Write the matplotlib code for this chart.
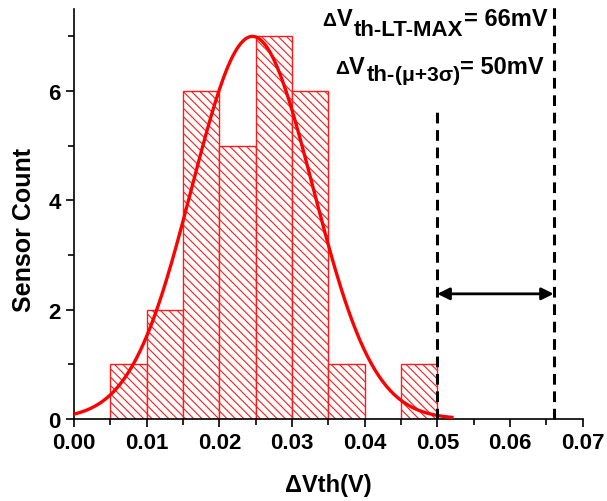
import numpy as np
import matplotlib
matplotlib.use("Agg")
import matplotlib.pyplot as plt
from matplotlib.ticker import MultipleLocator, FormatStrFormatter
from matplotlib.transforms import offset_copy

plt.rcParams['font.family'] = ['Liberation Sans', 'DejaVu Sans']
plt.rcParams['font.weight'] = 'bold'
plt.rcParams['hatch.linewidth'] = 0.8

# Histogram of threshold-voltage shift (bin left edges, width, counts)
bin_left = [0.005, 0.010, 0.015, 0.020, 0.025, 0.030, 0.035, 0.040, 0.045]
bin_width = 0.005
counts = [1, 2, 6, 5, 7, 6, 1, 0, 1]

# Normal fit parameters
fit_mu = 0.02455
fit_sigma = 0.00832
fit_amp = 7.0
fit_range = (0.0, 0.052)

# Limits (V)
v_mu3sigma = 0.050
v_lt_max = 0.066

fig = plt.figure(figsize=(6.07, 5.02), dpi=100)
ax = fig.add_axes([0.122, 0.1633, 0.838, 0.8167])

ax.bar(bin_left, counts, width=bin_width, align='edge', facecolor='white',
       edgecolor='#ff1a1a', hatch='\\\\\\\\', linewidth=1.0, zorder=2)

xs = np.linspace(fit_range[0], fit_range[1], 300)
ax.plot(xs, fit_amp * np.exp(-(xs - fit_mu) ** 2 / (2 * fit_sigma ** 2)),
        color='#ff0000', lw=2.4, zorder=3)

ax.plot([v_mu3sigma, v_mu3sigma], [0, 5.72], color='black', lw=2.2,
        linestyle=(0, (3.5, 2.2)), zorder=4)
ax.plot([v_lt_max, v_lt_max], [0, 7.6], color='black', lw=2.2,
        linestyle=(0, (3.5, 2.2)), zorder=4, clip_on=False)

ax.annotate('', xy=(v_lt_max, 2.29), xytext=(v_mu3sigma, 2.29),
            arrowprops=dict(arrowstyle='<|-|>', color='black', lw=2,
                            mutation_scale=18, shrinkA=0, shrinkB=0))

renderer = fig.canvas.get_renderer()


def rich_label(x, y, pieces):
    """Lay out text pieces left to right; each piece is (text, size, dy_px, gap_px)."""
    cursor = 0.0
    for txt, size, dy, gap in pieces:
        tr = offset_copy(ax.transData, fig=fig, x=cursor, y=dy, units='dots')
        t = ax.text(x, y, txt, fontsize=size, fontweight='bold',
                    ha='left', va='baseline', transform=tr, clip_on=False)
        cursor += t.get_window_extent(renderer).width + gap


mu_ch = '\u03bc'
sigma_ch = '\u03c3'
rich_label(0.03420, 7.21, [('\u0394', 14, 0, 0), ('V', 17, 0, 2),
                           ('th-LT-MAX', 16, -10, 0), ('= 66mV', 17, 0, 0)])
rich_label(0.03591, 6.33, [('\u0394', 14, 0, 0), ('V', 17, 0, 2),
                           ('th-', 16, -7, 0),
                           ('(' + mu_ch + '+3' + sigma_ch + ')', 15, -7, 0),
                           ('= 50mV', 17, 0, 0)])

ax.set_xlim(0, 0.07)
ax.set_ylim(0, 7.5)
ax.xaxis.set_major_locator(MultipleLocator(0.01))
ax.xaxis.set_minor_locator(MultipleLocator(0.005))
ax.xaxis.set_major_formatter(FormatStrFormatter('%.2f'))
ax.yaxis.set_major_locator(MultipleLocator(2))
ax.yaxis.set_minor_locator(MultipleLocator(1))
ax.tick_params(which='major', direction='out', length=6, width=1.2, labelsize=16)
ax.tick_params(which='minor', direction='out', length=4, width=1.2)
for lab in ax.get_xticklabels() + ax.get_yticklabels():
    lab.set_fontweight('bold')

for s in ('top', 'right'):
    ax.spines[s].set_visible(False)
for s in ('left', 'bottom'):
    ax.spines[s].set_linewidth(1.2)

ax.set_xlabel('\u0394Vth(V)', fontsize=17, fontweight='bold', labelpad=14)
ax.set_ylabel('Sensor Count', fontsize=18, fontweight='bold')
ax.yaxis.set_label_coords(-0.075, 0.463)

fig.savefig('out.png', dpi=100)
